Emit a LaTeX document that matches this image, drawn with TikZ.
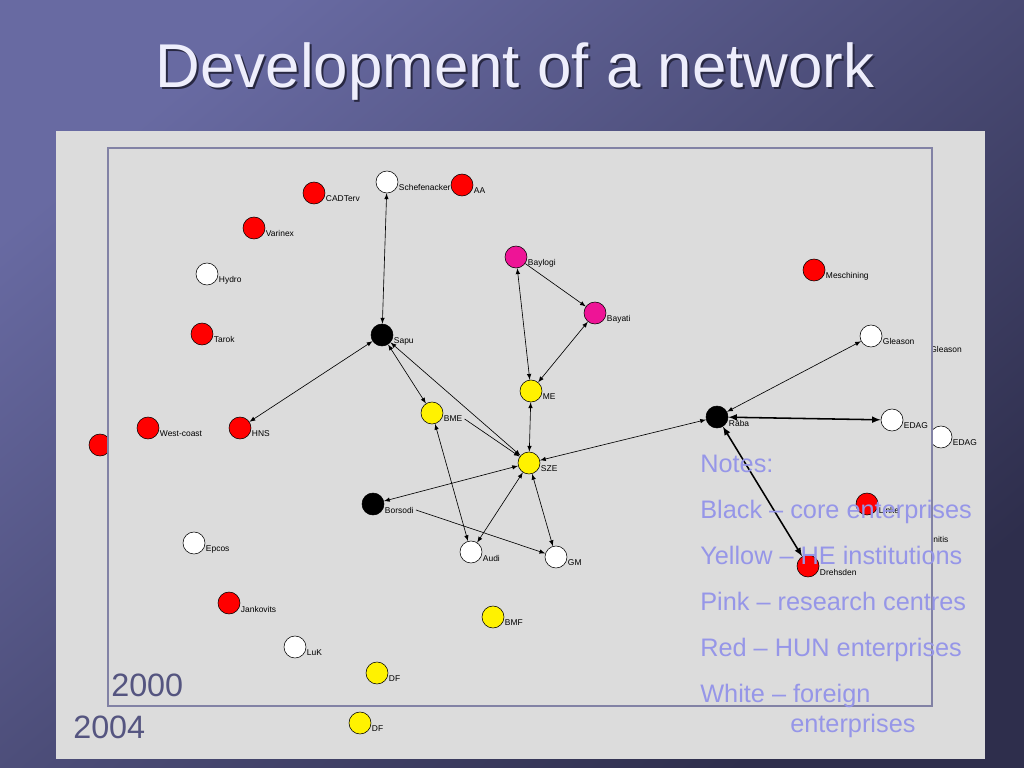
\documentclass[tikz,border=0pt]{standalone}
\usepackage{fontspec}
\setmainfont{Liberation Sans}
\usetikzlibrary{arrows}
\definecolor{slidetop}{RGB}{104,106,162}
\definecolor{slidebot}{RGB}{46,46,76}
\definecolor{panelgray}{RGB}{220,220,220}
\definecolor{framec}{RGB}{130,130,165}
\definecolor{mypink}{RGB}{238,20,150}
\definecolor{notec}{RGB}{150,150,232}
\definecolor{yearc}{RGB}{85,85,128}
\definecolor{titlec}{RGB}{238,238,252}
\definecolor{shadowc}{RGB}{40,40,66}

\begin{document}
\begin{tikzpicture}[x=0.025cm, y=-0.025cm,
  netnode/.style={circle, draw=black, line width=0.4pt, minimum size=0.55cm, inner sep=0pt},
  lab/.style={anchor=west, inner sep=1.5pt, font=\fontsize{6}{7}\selectfont},
  link/.style={latex-latex, line width=0.45pt},
  onelink/.style={-latex, line width=0.45pt},
  strong/.style={latex-latex, line width=1.1pt},
  notetext/.style={anchor=base west, inner sep=0pt, text=notec, font=\fontsize{18}{20}\selectfont},
  yearlab/.style={anchor=west, inner sep=0pt, text=yearc, font=\fontsize{23}{26}\selectfont},
  slidetitle/.style={anchor=base, inner sep=0pt, font=\fontsize{44}{50}\selectfont}]
\useasboundingbox (0,0) rectangle (1024,768);

\shade[top color=slidetop, bottom color=slidebot, shading angle=40] (0,0) rectangle (1024,768);

\node[slidetitle, text=shadowc] (title-s) at (517,90) {Development of a network};
\node[slidetitle, text=titlec] (title) at (515,88) {Development of a network};

\fill[panelgray] (56,131) rectangle (985,759);

\node[netnode, fill=red] (oldred) at (100,445) {};
\node[netnode, fill=white] (edag2) at (941,437) {};
\node[lab] (edag2-l) at (edag2.-32) {EDAG};
\node[lab] (glea2-l) at (928,349) {Gleason};
\node[lab] (niti-l) at (931,539) {nitis};
\node[netnode, fill=yellow] (df2) at (360,723) {};
\node[lab] (df2-l) at (df2.-32) {DF};
\node[yearlab] (y2004) at (73,727) {2004};

\draw[framec, fill=panelgray, line width=0.8pt] (108,148) rectangle (932,706);

\foreach \n/\x/\y/\c/\t in {cadt/314/193/red/CADTerv, sche/387/182/white/Schefenacker,
  aa/462/185/red/AA, vari/254/228/red/Varinex, hydr/207/274/white/Hydro,
  taro/202/334/red/Tarok, sapu/382/335/black/Sapu, west/148/428/red/West-coast,
  hns/240/428/red/HNS, bme/432/413/yellow/BME, bayl/516/257/mypink/Baylogi,
  baya/595/313/mypink/Bayati, mesc/814/270/red/Meschining, glea/871/336/white/Gleason,
  me/531/391/yellow/ME, raba/717/417/black/Rába, edag/892/420/white/EDAG,
  sze/529/463/yellow/SZE, linke/867/504/red/Linke, bors/373/504/black/Borsodi,
  dreh/808/566/red/Drehsden, epco/194/543/white/Epcos, audi/471/552/white/Audi,
  gm/556/557/white/GM, jank/229/603/red/Jankovits, bmf/493/617/yellow/BMF,
  luk/295/647/white/LuK, df/377/673/yellow/DF}
{
  \node[netnode, fill=\c] (\n) at (\x,\y) {};
  \node[lab] (\n-l) at (\n.-32) {\t};
}

\draw[link] (sapu) -- (sche);
\draw[link] (sapu) -- (hns);
\draw[link] (sapu) -- (bme);
\draw[link] (sapu) -- (sze);
\draw[onelink] (bme-l.east) -- (sze);
\draw[link] (bayl) -- (me);
\draw[onelink] (bayl) -- (baya);
\draw[link] (baya) -- (me);
\draw[link] (me) -- (sze);
\draw[link] (sze) -- (raba);
\draw[link] (raba) -- (glea);
\draw[strong] (raba) -- (edag);
\draw[strong] (raba) -- (dreh);
\draw[link] (sze) -- (bors);
\draw[onelink] (bors-l.east) -- (gm);
\draw[link] (bme) -- (audi);
\draw[link] (sze) -- (audi);
\draw[link] (sze) -- (gm);

\node[yearlab] (y2000) at (111,685) {2000};

\foreach \y/\t in {472/Notes:, 518/Black -- core enterprises, 564/Yellow -- HE institutions,
  610/Pink -- research centres, 656/Red -- HUN enterprises, 702/White -- foreign}
  \node[notetext] at (700,\y) {\t};
\node[notetext] (note-end) at (790,732) {enterprises};
\end{tikzpicture}
\end{document}
